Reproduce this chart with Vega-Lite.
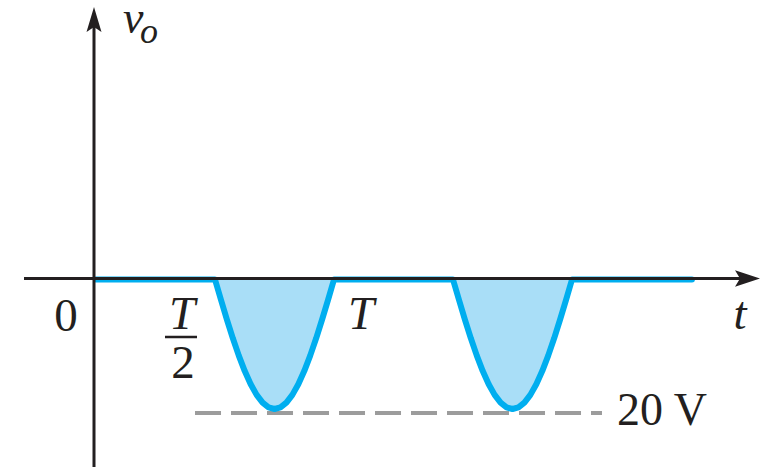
{
  "$schema": "https://vega.github.io/schema/vega-lite/v6.json",
  "width": 769,
  "height": 467,
  "autosize": "none",
  "padding": 0,
  "background": "white",
  "config": {"view": {"stroke": null}},
  "datasets": {
    "wave": [
      {"t": 0, "v": 0}, {"t": 0.5, "v": 0},
      {"t": 0.525, "v": -3.13}, {"t": 0.55, "v": -6.18}, {"t": 0.575, "v": -9.08}, {"t": 0.6, "v": -11.76},
      {"t": 0.625, "v": -14.14}, {"t": 0.65, "v": -16.18}, {"t": 0.675, "v": -17.82}, {"t": 0.7, "v": -19.02},
      {"t": 0.725, "v": -19.75}, {"t": 0.75, "v": -20}, {"t": 0.775, "v": -19.75}, {"t": 0.8, "v": -19.02},
      {"t": 0.825, "v": -17.82}, {"t": 0.85, "v": -16.18}, {"t": 0.875, "v": -14.14}, {"t": 0.9, "v": -11.76},
      {"t": 0.925, "v": -9.08}, {"t": 0.95, "v": -6.18}, {"t": 0.975, "v": -3.13}, {"t": 1.0, "v": 0},
      {"t": 1.5, "v": 0},
      {"t": 1.525, "v": -3.13}, {"t": 1.55, "v": -6.18}, {"t": 1.575, "v": -9.08}, {"t": 1.6, "v": -11.76},
      {"t": 1.625, "v": -14.14}, {"t": 1.65, "v": -16.18}, {"t": 1.675, "v": -17.82}, {"t": 1.7, "v": -19.02},
      {"t": 1.725, "v": -19.75}, {"t": 1.75, "v": -20}, {"t": 1.775, "v": -19.75}, {"t": 1.8, "v": -19.02},
      {"t": 1.825, "v": -17.82}, {"t": 1.85, "v": -16.18}, {"t": 1.875, "v": -14.14}, {"t": 1.9, "v": -11.76},
      {"t": 1.925, "v": -9.08}, {"t": 1.95, "v": -6.18}, {"t": 1.975, "v": -3.13}, {"t": 2.0, "v": 0},
      {"t": 2.504, "v": 0}
    ],
    "peak": [{"t1": 0.416, "t2": 2.126, "v": -20.62}],
    "xaxis": [{"t1": -0.3025, "t2": 2.71, "v": 0}],
    "yaxis": [{"t": -0.0084, "v1": -29.5, "v2": 39.5}],
    "xarrow": [{"t": 2.7374, "v": 0}],
    "yarrow": [{"t": -0.0084, "v": 40.15}],
    "fracbar": [{"t1": 0.2899, "t2": 0.4244, "v": -8.88}],
    "italicCenter": [
      {"t": 0.3613, "v": -7.72, "label": "T"},
      {"t": 1.1134, "v": -7.72, "label": "T"},
      {"t": 2.7059, "v": -7.72, "label": "t"}
    ],
    "italicLeft": [
      {"t": 0.1134, "v": 38.07, "label": "v", "fs": 46},
      {"t": 0.1849, "v": 36.53, "label": "o", "fs": 36}
    ],
    "romanCenter": [
      {"t": -0.1261, "v": -7.88, "label": "0"},
      {"t": 0.3655, "v": -15.21, "label": "2"}
    ],
    "romanLeft": [
      {"t": 2.1891, "v": -22.47, "label": "20 V"}
    ]
  },
  "layer": [
    {
      "data": {"name": "wave"},
      "mark": {"type": "area", "color": "#a9def7", "opacity": 1},
      "encoding": {
        "x": {"field": "t", "type": "quantitative", "scale": {"domain": [-0.40336, 2.82773], "nice": false, "zero": false}, "axis": null},
        "y": {"field": "v", "type": "quantitative", "scale": {"domain": [-28.958, 43.166], "nice": false, "zero": false}, "axis": null},
        "y2": {"datum": 0}
      }
    },
    {
      "data": {"name": "peak"},
      "mark": {"type": "rule", "color": "#9c9c9c", "strokeWidth": 4, "strokeDash": [26, 10]},
      "encoding": {
        "x": {"field": "t1", "type": "quantitative"},
        "x2": {"field": "t2"},
        "y": {"field": "v", "type": "quantitative"}
      }
    },
    {
      "data": {"name": "wave"},
      "mark": {"type": "line", "color": "#00aeef", "strokeWidth": 6, "strokeJoin": "round", "strokeCap": "round"},
      "encoding": {
        "x": {"field": "t", "type": "quantitative"},
        "y": {"field": "v", "type": "quantitative"}
      }
    },
    {
      "data": {"name": "xaxis"},
      "mark": {"type": "rule", "color": "#231f20", "strokeWidth": 3, "yOffset": -1},
      "encoding": {
        "x": {"field": "t1", "type": "quantitative"},
        "x2": {"field": "t2"},
        "y": {"field": "v", "type": "quantitative"}
      }
    },
    {
      "data": {"name": "yaxis"},
      "mark": {"type": "rule", "color": "#231f20", "strokeWidth": 3},
      "encoding": {
        "x": {"field": "t", "type": "quantitative"},
        "y": {"field": "v1", "type": "quantitative"},
        "y2": {"field": "v2"}
      }
    },
    {
      "data": {"name": "xarrow"},
      "mark": {"type": "point", "filled": true, "color": "#231f20", "opacity": 1, "size": 625, "shape": "M-1,-0.66L1,0L-1,0.66L-0.6,0Z", "yOffset": -1},
      "encoding": {
        "x": {"field": "t", "type": "quantitative"},
        "y": {"field": "v", "type": "quantitative"}
      }
    },
    {
      "data": {"name": "yarrow"},
      "mark": {"type": "point", "filled": true, "color": "#231f20", "opacity": 1, "size": 625, "shape": "M0,-1L0.6,1L0,0.6L-0.6,1Z"},
      "encoding": {
        "x": {"field": "t", "type": "quantitative"},
        "y": {"field": "v", "type": "quantitative"}
      }
    },
    {
      "data": {"name": "fracbar"},
      "mark": {"type": "rule", "color": "#231f20", "strokeWidth": 2.5},
      "encoding": {
        "x": {"field": "t1", "type": "quantitative"},
        "x2": {"field": "t2"},
        "y": {"field": "v", "type": "quantitative"}
      }
    },
    {
      "data": {"name": "italicCenter"},
      "mark": {"type": "text", "font": "Liberation Serif", "fontStyle": "italic", "fontSize": 47, "align": "center", "baseline": "alphabetic", "color": "#231f20"},
      "encoding": {
        "x": {"field": "t", "type": "quantitative"},
        "y": {"field": "v", "type": "quantitative"},
        "text": {"field": "label"}
      }
    },
    {
      "data": {"name": "italicLeft"},
      "mark": {"type": "text", "font": "Liberation Serif", "fontStyle": "italic", "align": "left", "baseline": "alphabetic", "color": "#231f20"},
      "encoding": {
        "x": {"field": "t", "type": "quantitative"},
        "y": {"field": "v", "type": "quantitative"},
        "size": {"field": "fs", "type": "quantitative", "scale": null, "legend": null},
        "text": {"field": "label"}
      }
    },
    {
      "data": {"name": "romanCenter"},
      "mark": {"type": "text", "font": "Liberation Serif", "fontSize": 47, "align": "center", "baseline": "alphabetic", "color": "#231f20"},
      "encoding": {
        "x": {"field": "t", "type": "quantitative"},
        "y": {"field": "v", "type": "quantitative"},
        "text": {"field": "label"}
      }
    },
    {
      "data": {"name": "romanLeft"},
      "mark": {"type": "text", "font": "Liberation Serif", "fontSize": 46, "align": "left", "baseline": "alphabetic", "color": "#231f20"},
      "encoding": {
        "x": {"field": "t", "type": "quantitative"},
        "y": {"field": "v", "type": "quantitative"},
        "text": {"field": "label"}
      }
    }
  ]
}
